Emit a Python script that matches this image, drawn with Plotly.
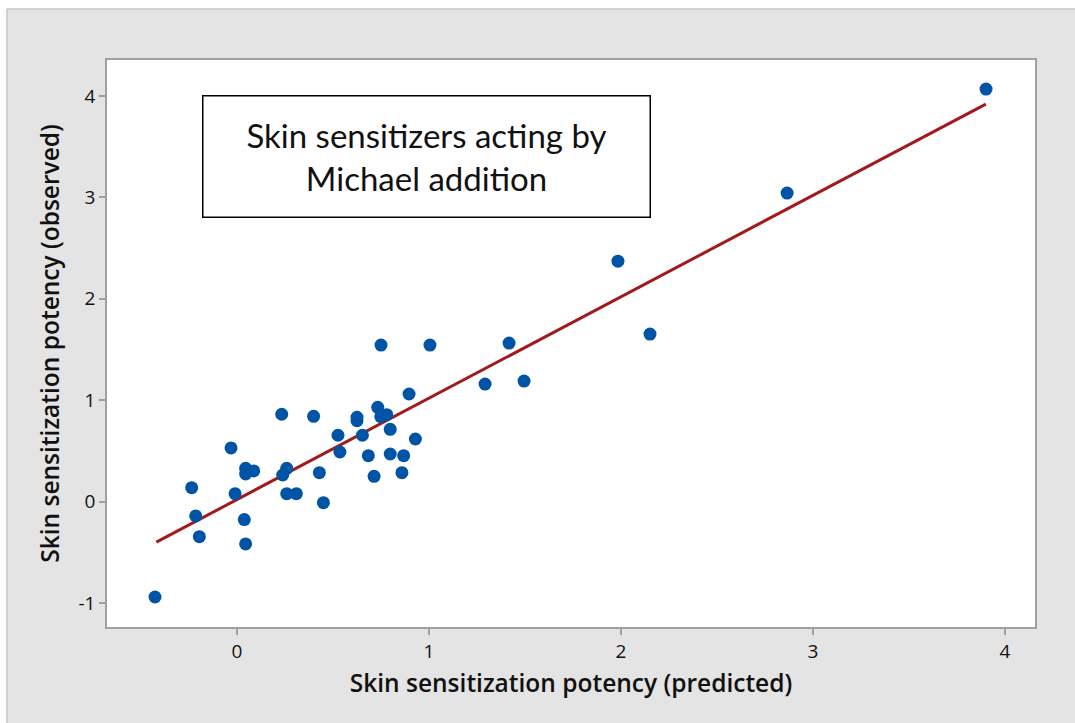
import plotly.graph_objects as go

# Data
predicted = [-0.427, -0.236, -0.215, -0.196, -0.031, -0.010, 0.038, 0.045, 0.045, 0.045,
             0.087, 0.233, 0.238, 0.259, 0.259, 0.309, 0.399, 0.429, 0.450, 0.526,
             0.536, 0.625, 0.625, 0.653, 0.684, 0.714, 0.733, 0.749, 0.750, 0.780,
             0.798, 0.798, 0.859, 0.868, 0.896, 0.929, 1.005, 1.292, 1.417, 1.495,
             1.984, 2.151, 2.865, 3.901]
observed = [-0.941, 0.137, -0.142, -0.346, 0.529, 0.078, -0.178, -0.418, 0.328, 0.272,
            0.302, 0.861, 0.262, 0.328, 0.078, 0.078, 0.841, 0.285, -0.011, 0.654,
            0.489, 0.831, 0.798, 0.654, 0.453, 0.249, 0.930, 0.837, 1.543, 0.857,
            0.713, 0.469, 0.285, 0.453, 1.061, 0.617, 1.543, 1.159, 1.563, 1.188,
            2.371, 1.652, 3.043, 4.068]

# Fitted regression line endpoints
fit_x = [-0.42, 3.90]
fit_y = [-0.40, 3.92]

x_ticks = [0, 1, 2, 3, 4]
y_ticks = [-1, 0, 1, 2, 3, 4]

x_title = "Skin sensitization potency (predicted)"
y_title = "Skin sensitization potency (observed)"
box_text = "Skin sensitizers acting by<br>Michael addition"

W, H = 1075, 723
L, R, T, B = 107, 40, 60, 96
pw, ph = W - L - R, H - T - B

def px_x(p):
    return (p - L) / pw

def px_y(p):
    return (H - B - p) / ph

fig = go.Figure()
fig.add_trace(go.Scatter(x=fit_x, y=fit_y, mode="lines",
                         line=dict(color="#A01C1C", width=3), hoverinfo="skip",
                         showlegend=False))
fig.add_trace(go.Scatter(x=predicted, y=observed, mode="markers",
                         marker=dict(color="#0054A6", size=13, line=dict(width=0)),
                         showlegend=False))

axis_common = dict(
    showgrid=False, zeroline=False, showline=True, mirror=True,
    linecolor="#A0A0A0", linewidth=1.5,
    ticks="outside", ticklen=6, tickcolor="#A0A0A0", tickwidth=1.5,
    tickfont=dict(family="Open Sans", size=19, color="#111111"),
)

fig.update_xaxes(range=[-0.677, 4.156], tickvals=x_ticks,
                 ticktext=[str(v) for v in x_ticks],
                 title=dict(text=x_title, standoff=12,
                            font=dict(family="Open Sans", size=24.5, color="#111111", weight=600)),
                 **axis_common)
fig.update_yaxes(range=[-1.237, 4.355], tickvals=y_ticks,
                 ticktext=[str(v) for v in y_ticks],
                 title=dict(text=y_title, standoff=12,
                            font=dict(family="Open Sans", size=24.5, color="#111111", weight=600)),
                 **axis_common)

shapes = [
    # white strips outside the gray frame
    dict(type="rect", xref="paper", yref="paper", x0=px_x(-20), x1=px_x(6.5),
         y0=px_y(H + 20), y1=px_y(-20), fillcolor="white", line=dict(width=0), layer="below"),
    dict(type="rect", xref="paper", yref="paper", x0=px_x(-20), x1=px_x(W + 20),
         y0=px_y(8.5), y1=px_y(-20), fillcolor="white", line=dict(width=0), layer="below"),
    dict(type="line", xref="paper", yref="paper", x0=px_x(7), x1=px_x(7),
         y0=px_y(9), y1=px_y(H + 5), line=dict(color="#C8C8C8", width=1.5), layer="below"),
    dict(type="line", xref="paper", yref="paper", x0=px_x(7), x1=px_x(W + 5),
         y0=px_y(9), y1=px_y(9), line=dict(color="#C8C8C8", width=1.5), layer="below"),
]

fig.update_layout(
    width=W, height=H,
    margin=dict(l=L, r=R, t=T, b=B, autoexpand=False),
    paper_bgcolor="#E4E4E4", plot_bgcolor="white",
    shapes=shapes,
    annotations=[dict(
        text=box_text, xref="paper", yref="paper",
        x=px_x(426), y=px_y(156), xanchor="center", yanchor="middle",
        showarrow=False, align="center", valign="middle",
        width=446, height=120, borderpad=0, borderwidth=1.5,
        bordercolor="#000000", bgcolor="white",
        font=dict(family="Lato", size=33, color="#111111"),
    )],
)

fig.write_html("out.html", config={"displayModeBar": False},
               post_script="document.body.style.margin='0';document.body.style.overflow='hidden';")
